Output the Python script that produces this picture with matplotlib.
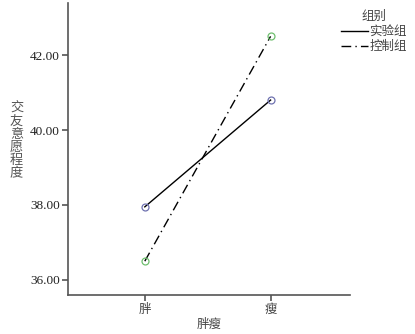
import matplotlib.pyplot as plt
from matplotlib.lines import Line2D

plt.rcParams['font.family'] = ['Noto Sans CJK SC', 'DejaVu Sans']

groups = ['胖', '瘦']
exp_vals = [37.95, 40.80]
ctrl_vals = [36.50, 42.50]
yticks = [36, 38, 40, 42]
ylabel = '交友意愿程度'

fig = plt.figure(figsize=(4.15, 3.34), dpi=100)
ax = fig.add_axes([0.164, 0.117, 0.679, 0.874])

x = [0, 1]
ax.plot(x, exp_vals, color='black', lw=1.0, ls='-')
ax.plot(x, ctrl_vals, color='black', lw=1.0, ls=(0, (7, 3, 1, 3)))
ax.plot(x, exp_vals, ls='none', marker='o', ms=5, mfc='none', mec='#6f72b0', mew=0.9)
ax.plot(x, ctrl_vals, ls='none', marker='o', ms=5, mfc='none', mec='#6fbf6f', mew=0.9)

ax.set_xlim(-0.61, 1.63)
ax.set_ylim(35.6, 43.39)
ax.set_xticks(x)
ax.set_xticklabels(groups, fontsize=9, color='#444444')
ax.set_yticks(yticks)
ax.set_yticklabels(['%.2f' % v for v in yticks], fontsize=9.5,
                   family='Liberation Serif', color='#222222')

for s in ['top', 'right']:
    ax.spines[s].set_visible(False)
for s in ['left', 'bottom']:
    ax.spines[s].set_color('#555555')
    ax.spines[s].set_linewidth(1.2)
ax.tick_params(direction='out', length=4, width=1.2, color='#555555', pad=2)

ax.set_xlabel('胖瘦', fontsize=9, color='#444444', labelpad=1)

# stacked vertical y label, one character per line
top = 1 - 108 / 334
step = 13.2 / 334
for i, ch in enumerate(ylabel):
    fig.text(0.04, top - i * step, ch, fontsize=9.5, color='#555555',
             ha='center', va='center')

handles = [Line2D([], [], color='black', lw=1.0, ls='-'),
           Line2D([], [], color='black', lw=1.0, ls=(0, (7, 3, 1, 3)))]
leg = fig.legend(handles, ['实验组', '控制组'], title='组别', frameon=False,
                 loc='upper left', bbox_to_anchor=(0.8, 0.995), fontsize=9,
                 title_fontsize=9, handlelength=2.2, handletextpad=0.1,
                 labelspacing=0.15, borderpad=0.2)
for t in leg.get_texts():
    t.set_color('#444444')
leg.get_title().set_color('#444444')

fig.savefig('out.png', dpi=100)
